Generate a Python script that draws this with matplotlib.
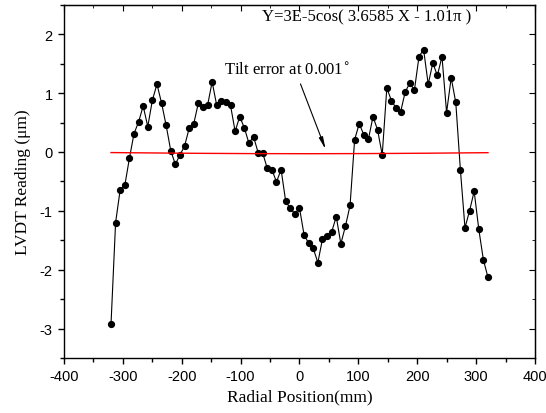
import numpy as np
import matplotlib
matplotlib.use('Agg')
from matplotlib import pyplot as plt
from matplotlib.ticker import MultipleLocator

plt.rcParams['axes.unicode_minus'] = False

# LVDT readings (um), 83 samples across the radius
pos = np.linspace(-320, 320, 83)
reading = [
    -2.93, -1.20, -0.64, -0.57, -0.11, 0.31, 0.51, 0.78, 0.43, 0.88,
    1.15, 0.83, 0.45, 0.02, -0.21, -0.05, 0.10, 0.40, 0.48, 0.83,
    0.77, 0.79, 1.19, 0.79, 0.86, 0.84, 0.79, 0.35, 0.60, 0.41,
    0.15, 0.26, -0.01, -0.02, -0.28, -0.30, -0.51, -0.30, -0.84, -0.96,
    -1.05, -0.95, -1.41, -1.55, -1.64, -1.88, -1.48, -1.43, -1.36, -1.10,
    -1.56, -1.26, -0.91, 0.21, 0.48, 0.29, 0.22, 0.60, 0.37, -0.05,
    1.09, 0.87, 0.75, 0.68, 1.02, 1.17, 1.05, 1.62, 1.74, 1.15,
    1.51, 1.30, 1.62, 0.67, 1.26, 0.84, -0.30, -1.29, -1.00, -0.67,
    -1.31, -1.83, -2.13,
]

# tilt fit from the label: Y=3E-5cos(3.6585 X - 1.01pi), Y and X in m
amp = 3e-5
freq = 3.6585
phase = 1.01 * np.pi
fit_x = np.linspace(-320, 320, 200)
fit_y = amp * np.cos(freq * fit_x / 1000 - phase) * 1e3  # mm -> um

serif = ['Liberation Serif', 'DejaVu Serif']
sans = ['Liberation Sans', 'DejaVu Sans']

fig = plt.figure(figsize=(5.46, 4.14), dpi=100)
ax = fig.add_axes([0.117, 0.133, 0.863, 0.853])

ax.plot(pos, reading, color='black', lw=0.8, marker='o', ms=4.2)
ax.plot(fit_x, fit_y, color='red', lw=1.0)

ax.set_xlim(-400, 400)
ax.set_ylim(-3.5, 2.5)
ax.xaxis.set_major_locator(MultipleLocator(100))
ax.xaxis.set_minor_locator(MultipleLocator(50))
ax.yaxis.set_major_locator(MultipleLocator(1))
ax.yaxis.set_minor_locator(MultipleLocator(0.5))
ax.tick_params(which='both', direction='out', width=1.0)
ax.tick_params(which='major', length=4.5)
ax.tick_params(which='minor', length=3)
for lab in ax.get_xticklabels() + ax.get_yticklabels():
    lab.set_family(sans)
    lab.set_fontsize(10.5)
for sp in ax.spines.values():
    sp.set_linewidth(1.0)

# inward ticks on top and right, no labels
top = ax.secondary_xaxis('top')
top.xaxis.set_major_locator(MultipleLocator(100))
top.xaxis.set_minor_locator(MultipleLocator(50))
top.tick_params(which='both', direction='in', labeltop=False)
top.tick_params(which='major', length=4)
top.tick_params(which='minor', length=2.5)
right = ax.secondary_yaxis('right')
right.yaxis.set_major_locator(MultipleLocator(1))
right.yaxis.set_minor_locator(MultipleLocator(0.5))
right.tick_params(which='both', direction='in', labelright=False)
right.tick_params(which='major', length=4)
right.tick_params(which='minor', length=2.5)

ax.set_xlabel('Radial Position(mm)', family=serif, fontsize=12.5, labelpad=4)
ax.set_ylabel('LVDT Reading (\u03bcm)', family=serif, fontsize=12.5, labelpad=6)

ax.text(114, 2.30, 'Y=3E-5cos( 3.6585 X - 1.01\u03c0 )', family=serif,
        fontsize=12, ha='center', va='center')
ax.text(-22, 1.40, 'Tilt error at 0.001$^\\mathrm{\\circ}$', family=serif,
        fontsize=12, ha='center', va='center')
ax.annotate('', xy=(46, 0.0), xytext=(0, 1.2),
            arrowprops=dict(arrowstyle='-|>,head_length=0.7,head_width=0.12',
                            color='black', lw=0.8))

fig.savefig('out.png', dpi=100)
